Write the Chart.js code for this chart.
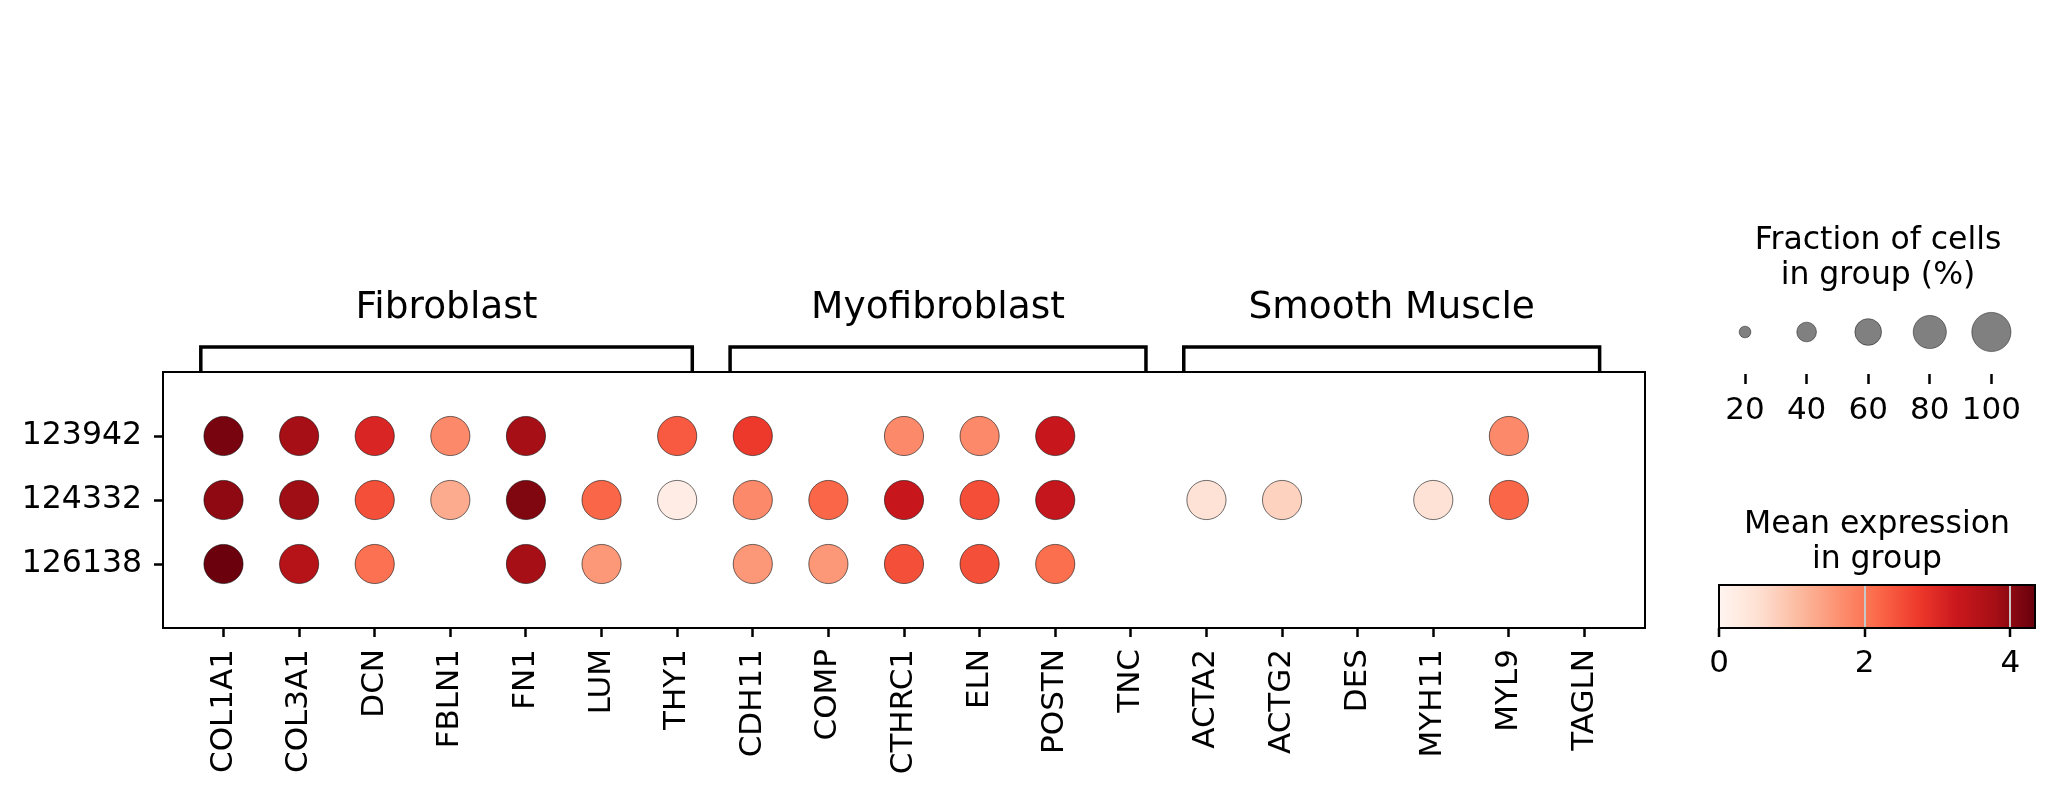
<!DOCTYPE html>
<html>
<head>
<meta charset="utf-8">
<script src="https://cdn.jsdelivr.net/npm/chart.js@4.4.1/dist/chart.umd.min.js"></script>
<style>
    html, body { margin: 0; padding: 0; background: #fff; }
    body { width: 2055px; height: 798px; position: relative; overflow: hidden; }
    .box { position: absolute; }
</style>
</head>
<body>
<div class="box" style="left:0;top:0"><canvas id="dotChart" width="2055" height="798"></canvas></div>
<div class="box" style="left:1700px;top:200px"><canvas id="sizeChart" width="340" height="240"></canvas></div>
<div class="box" style="left:1700px;top:480px"><canvas id="colorChart" width="350" height="210"></canvas></div>

<script>
// ─── data ───
const genes = ['COL1A1','COL3A1','DCN','FBLN1','FN1','LUM','THY1',
               'CDH11','COMP','CTHRC1','ELN','POSTN','TNC',
               'ACTA2','ACTG2','DES','MYH11','MYL9','TAGLN'];
const samples = ['123942', '124332', '126138'];

// mean expression per sample (null = not expressed)
const expr123942 = [4.2, 3.8, 3.05, 1.75, 3.78, null, 2.35, 2.75, null, 1.75, 1.75, 3.3, null, null, null, null, null, 1.75, null];
const expr124332 = [4.0, 3.85, 2.48, 1.3, 4.12, 2.2, 0.22, 1.75, 2.2, 3.3, 2.5, 3.35, null, 0.48, 0.74, null, 0.48, 2.2, null];
const expr126138 = [4.3, 3.56, 2.08, null, 3.8, 1.56, null, 1.56, 1.56, 2.48, 2.48, 2.1, null, null, null, null, null, null, null];

// fraction of cells in group (%)
const frac123942 = [100, 100, 100, 100, 100, 0, 100, 100, 0, 100, 100, 100, 0, 0, 0, 0, 0, 100, 0];
const frac124332 = [100, 100, 100, 100, 100, 100, 100, 100, 100, 100, 100, 100, 0, 100, 100, 0, 100, 100, 0];
const frac126138 = [100, 100, 100, 0, 100, 100, 0, 100, 100, 100, 100, 100, 0, 0, 0, 0, 0, 0, 0];

const groupLabels = ['Fibroblast', 'Myofibroblast', 'Smooth Muscle'];
const groupStart  = [0, 7, 13];
const groupEnd    = [6, 12, 18];

const sizeLegendVals = [20, 40, 60, 80, 100];
const colorTicks = [0, 2, 4];
const COLOR_MAX = 4.34;

// ─── helpers ───
const FONT = "'DejaVu Sans', sans-serif";
const R_MAX = 19.6;
const REDS = [[255,245,240],[254,224,210],[252,187,161],[252,146,114],[251,106,74],
              [239,59,44],[203,24,29],[165,15,21],[103,0,13]];

function reds(t) {
    t = Math.max(0, Math.min(1, t));
    const p = t * (REDS.length - 1);
    const i = Math.min(Math.floor(p), REDS.length - 2);
    const f = p - i;
    const c = REDS[i].map((a, k) => Math.round(a + (REDS[i + 1][k] - a) * f));
    return `rgb(${c[0]},${c[1]},${c[2]})`;
}
const radiusFor = f => R_MAX * Math.pow(f / 100, 0.75);

const exprRows = [expr123942, expr124332, expr126138];
const fracRows = [frac123942, frac124332, frac126138];
const dots = [];
exprRows.forEach((row, r) => {
    row.forEach((v, c) => {
        if (v !== null && fracRows[r][c] > 0) dots.push({ x: c, y: r, v: v, f: fracRows[r][c] });
    });
});

function drawText(ctx, lines, cx, ys, size) {
    ctx.save();
    ctx.fillStyle = '#000';
    ctx.font = `${size}px ${FONT}`;
    ctx.textAlign = 'center';
    ctx.textBaseline = 'middle';
    lines.forEach((t, i) => ctx.fillText(t, cx, ys[i]));
    ctx.restore();
}

// ─── main dot plot ───
const framePlugin = {
    id: 'frame',
    afterDraw(chart) {
        const { ctx, chartArea: a, scales } = chart;
        ctx.save();
        ctx.strokeStyle = '#000';
        ctx.lineWidth = 2;
        ctx.strokeRect(a.left, a.top, a.right - a.left, a.bottom - a.top);
        // gene group brackets
        ctx.lineWidth = 3.5;
        const yTop = a.top - 25;
        groupLabels.forEach((lab, i) => {
            const x0 = scales.x.getPixelForValue(groupStart[i] - 0.3);
            const x1 = scales.x.getPixelForValue(groupEnd[i] + 0.2);
            ctx.beginPath();
            ctx.moveTo(x0, a.top);
            ctx.lineTo(x0, yTop);
            ctx.lineTo(x1, yTop);
            ctx.lineTo(x1, a.top);
            ctx.stroke();
            drawText(ctx, [lab], (x0 + x1) / 2, [a.top - 64], 37.5);
        });
        ctx.restore();
    }
};

new Chart(document.getElementById('dotChart'), {
    type: 'scatter',
    data: {
        datasets: [{
            data: dots,
            pointRadius: c => radiusFor(c.raw.f),
            pointHoverRadius: c => radiusFor(c.raw.f),
            backgroundColor: c => reds(c.raw.v / COLOR_MAX),
            borderColor: 'rgba(0,0,0,0.7)',
            borderWidth: 0.8
        }]
    },
    options: {
        responsive: false,
        animation: false,
        layout: { padding: { top: 372, right: 410, left: 0, bottom: 0 } },
        plugins: { legend: { display: false }, tooltip: { enabled: false } },
        scales: {
            x: {
                type: 'linear', min: -0.8, max: 18.8,
                afterFit: s => { s.height = 170; },
                afterBuildTicks: s => { s.ticks = genes.map((g, i) => ({ value: i })); },
                ticks: {
                    autoSkip: false, minRotation: 90, maxRotation: 90, padding: 12,
                    color: '#000', font: { family: FONT, size: 31 },
                    callback: v => genes[v]
                },
                grid: { drawOnChartArea: false, tickLength: 9, tickWidth: 2.5, tickColor: '#000' },
                border: { display: true, color: '#000', width: 2 }
            },
            y: {
                type: 'linear', min: -1, max: 3, reverse: true,
                afterFit: s => { s.width = 163; },
                afterBuildTicks: s => { s.ticks = samples.map((g, i) => ({ value: i })); },
                ticks: {
                    padding: 12, color: '#000', font: { family: FONT, size: 31.5 },
                    callback: v => samples[v]
                },
                grid: { drawOnChartArea: false, tickLength: 9, tickWidth: 2.5, tickColor: '#000' },
                border: { display: true, color: '#000', width: 2 }
            }
        }
    },
    plugins: [framePlugin]
});

// ─── size legend ───
new Chart(document.getElementById('sizeChart'), {
    type: 'scatter',
    data: {
        datasets: [{
            data: sizeLegendVals.map(v => ({ x: v, y: 0.5 })),
            pointRadius: c => radiusFor(c.raw.x),
            backgroundColor: '#808080',
            borderColor: 'rgba(0,0,0,0.55)',
            borderWidth: 0.8,
            clip: false
        }]
    },
    options: {
        responsive: false,
        animation: false,
        layout: { padding: { top: 90, right: 24, left: 16, bottom: 0 } },
        plugins: { legend: { display: false }, tooltip: { enabled: false } },
        scales: {
            x: {
                type: 'linear', min: 12, max: 108,
                afterFit: s => { s.height = 66; },
                afterBuildTicks: s => { s.ticks = sizeLegendVals.map(v => ({ value: v })); },
                ticks: { padding: 8, color: '#000', font: { family: FONT, size: 31 } },
                grid: { drawOnChartArea: false, tickLength: 10, tickWidth: 2.5, tickColor: '#000' },
                border: { display: false }
            },
            y: { display: false, min: 0, max: 1 }
        }
    },
    plugins: [{
        id: 'sizeTitle',
        afterDraw(chart) {
            drawText(chart.ctx, ['Fraction of cells', 'in group (%)'], 178, [41, 76], 31.5);
        }
    }]
});

// ─── colorbar ───
new Chart(document.getElementById('colorChart'), {
    type: 'scatter',
    data: { datasets: [] },
    options: {
        responsive: false,
        animation: false,
        layout: { padding: { top: 105, right: 15, left: 19, bottom: 0 } },
        plugins: { legend: { display: false }, tooltip: { enabled: false } },
        scales: {
            x: {
                type: 'linear', min: 0, max: COLOR_MAX,
                afterFit: s => { s.height = 62; },
                afterBuildTicks: s => { s.ticks = colorTicks.map(v => ({ value: v })); },
                ticks: { padding: 8, color: '#000', font: { family: FONT, size: 31 } },
                grid: { drawOnChartArea: true, color: '#c8c8c8', lineWidth: 2,
                        tickLength: 9, tickWidth: 2.5, tickColor: '#000' },
                border: { display: false }
            },
            y: { display: false, min: 0, max: 1 }
        }
    },
    plugins: [{
        id: 'colorbar',
        beforeDraw(chart) {
            const { ctx, chartArea: a } = chart;
            const g = ctx.createLinearGradient(a.left, 0, a.right, 0);
            for (let i = 0; i <= 64; i++) g.addColorStop(i / 64, reds(i / 64));
            ctx.save();
            ctx.fillStyle = g;
            ctx.fillRect(a.left, a.top, a.right - a.left, a.bottom - a.top);
            ctx.restore();
        },
        afterDraw(chart) {
            const { ctx, chartArea: a } = chart;
            ctx.save();
            ctx.strokeStyle = '#000';
            ctx.lineWidth = 2;
            ctx.strokeRect(a.left, a.top, a.right - a.left, a.bottom - a.top);
            ctx.restore();
            drawText(ctx, ['Mean expression', 'in group'], 177, [45, 80], 31.5);
        }
    }]
});
</script>
</body>
</html>
